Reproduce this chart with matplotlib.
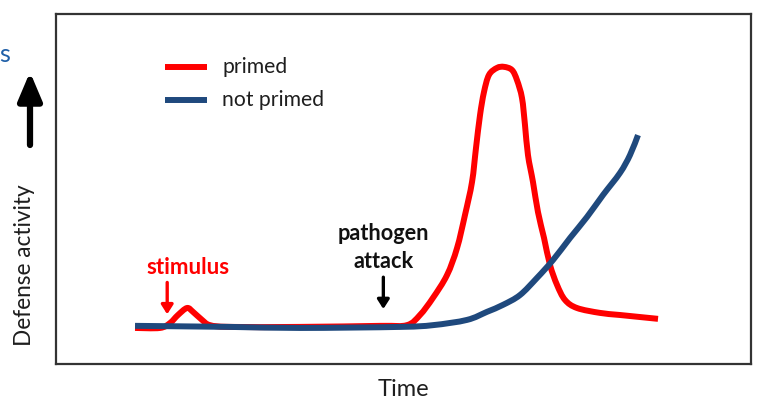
import matplotlib
matplotlib.use("Agg")
import matplotlib.pyplot as plt
from matplotlib.path import Path
from matplotlib.patches import PathPatch, FancyArrowPatch

# Time axis (arbitrary units) and defense activity for each response
primed_time = [1.137, 1.496, 1.640, 1.755, 1.885, 1.971, 2.101, 2.216, 2.504, 3.511,
               4.662, 5.050, 5.237, 5.424, 5.626, 5.770, 5.885, 5.986, 6.043, 6.101,
               6.158, 6.230, 6.345, 6.446, 6.561, 6.633, 6.705, 6.748, 6.791, 6.863,
               6.935, 7.022, 7.108, 7.209, 7.324, 7.496, 7.827, 8.115, 8.662]
primed_activity = [1.03, 1.03, 1.17, 1.40, 1.60, 1.49, 1.26, 1.11, 1.06, 1.06,
                   1.09, 1.11, 1.40, 1.89, 2.54, 3.31, 4.26, 5.20, 6.17, 7.11,
                   7.77, 8.26, 8.46, 8.49, 8.40, 8.11, 7.60, 6.83, 5.97, 5.20,
                   4.34, 3.60, 2.83, 2.26, 1.83, 1.60, 1.46, 1.40, 1.29]

not_primed_time = [1.137, 2.504, 3.511, 4.950, 5.424, 5.914, 6.201, 6.432, 6.676,
                   6.921, 7.151, 7.396, 7.640, 7.871, 8.115, 8.259, 8.374]
not_primed_activity = [1.09, 1.06, 1.03, 1.06, 1.11, 1.26, 1.49, 1.69, 1.97,
                       2.46, 2.97, 3.60, 4.20, 4.83, 5.46, 5.97, 6.54]

series_labels = ["primed", "not primed"]
stimulus_time = 1.60
pathogen_time = 4.71

RED = "#ff0000"
BLUE = "#1f497d"
TEXT = "#1e1e1e"
LW = 4.3

plt.rcParams["font.family"] = ["Lato", "DejaVu Sans"]


def smooth_path(xs, ys):
    """Cubic Bezier path passing through every (x, y) point (Catmull-Rom tangents)."""
    pts = list(zip(xs, ys))
    verts = [pts[0]]
    codes = [Path.MOVETO]
    n = len(pts)
    for i in range(n - 1):
        p0 = pts[i - 1] if i > 0 else pts[i]
        p1 = pts[i]
        p2 = pts[i + 1]
        p3 = pts[i + 2] if i + 2 < n else pts[i + 1]
        c1 = (p1[0] + (p2[0] - p0[0]) / 6, p1[1] + (p2[1] - p0[1]) / 6)
        c2 = (p2[0] - (p3[0] - p1[0]) / 6, p2[1] - (p3[1] - p1[1]) / 6)
        verts += [c1, c2, p2]
        codes += [Path.CURVE4] * 3
    return Path(verts, codes)


W, H = 758, 401
fig = plt.figure(figsize=(W / 100, H / 100), dpi=100)
ax = fig.add_axes([56 / W, (H - 364) / H, 695 / W, 350 / H])
ax.set_xlim(0, 10)
ax.set_ylim(0, 10)
ax.set_xticks([])
ax.set_yticks([])
for sp in ax.spines.values():
    sp.set_linewidth(1.6)
    sp.set_color("#333333")

ax.add_patch(PathPatch(smooth_path(primed_time, primed_activity), fill=False,
                       edgecolor=RED, lw=LW, capstyle="butt", joinstyle="round",
                       zorder=2))
ax.add_patch(PathPatch(smooth_path(not_primed_time, not_primed_activity), fill=False,
                       edgecolor=BLUE, lw=LW, capstyle="butt", joinstyle="round",
                       zorder=3))

# Legend drawn by hand
for label, color, py in [(series_labels[0], RED, 67), (series_labels[1], BLUE, 100)]:
    y = (364 - py) / 35
    ax.plot([(165 - 56) / 69.5, (207 - 56) / 69.5], [y, y], color=color, lw=LW,
            solid_capstyle="butt")
    ax.text((222 - 56) / 69.5, y, label, fontsize=15.2, va="center", ha="left",
            color=TEXT)

# Event markers
ax.text(stimulus_time + 0.3, 2.75, "stimulus", color=RED, fontsize=16,
        fontweight="bold", ha="center", va="center")
ax.annotate("", xy=(stimulus_time, 1.42), xytext=(stimulus_time, 2.33),
            arrowprops=dict(arrowstyle="-|>,head_width=0.35,head_length=0.55",
                            color=RED, lw=2.4, shrinkA=0, shrinkB=0))

ax.text(pathogen_time, 3.33, "pathogen\nattack", color="#111111", fontsize=15.6,
        fontweight="bold", ha="center", va="center", linespacing=1.45)
ax.annotate("", xy=(pathogen_time, 1.57), xytext=(pathogen_time, 2.48),
            arrowprops=dict(arrowstyle="-|>,head_width=0.35,head_length=0.55",
                            color="black", lw=2.4, shrinkA=0, shrinkB=0))

# Axis titles
fig.text(25 / W, (H - 265) / H, "Defense activity", rotation=90, fontsize=16.3,
         ha="center", va="center", color=TEXT)
fig.text(403 / W, (H - 389) / H, "Time", fontsize=17, ha="center", va="center",
         color=TEXT)

# Upward arrow beside the y-axis title
fig.patches.append(FancyArrowPatch(
    (30, H - 145), (30, H - 72), transform=None,
    arrowstyle="-|>,head_width=0.36,head_length=0.85", mutation_scale=20,
    color="black", lw=4.5, shrinkA=0, shrinkB=0))

fig.text(-1 / W, (H - 54) / H, "s", fontsize=18, color="#2060a8",
         ha="left", va="center")

fig.savefig("out.png", dpi=100)
